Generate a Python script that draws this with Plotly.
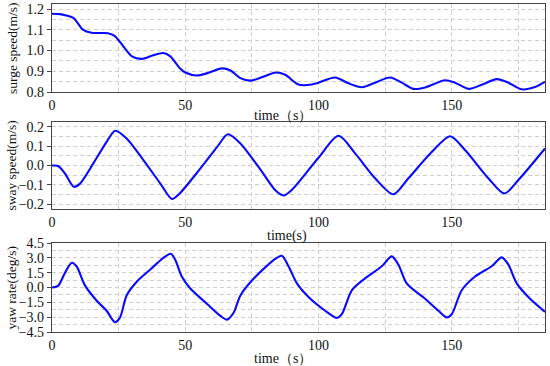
import plotly.graph_objects as go

# surge speed
t_surge = [0, 3, 5, 8, 11.7, 14.8, 18, 21, 23.6, 26.8, 30, 33.7, 38, 41.8, 44.4, 48, 50, 54.4, 58, 63.8, 67,
           70.7, 74.5, 78.9, 84, 87.5, 92.5, 97.5, 100, 106.25, 111.25, 116.25, 121.25, 126.9, 131.25, 135.6,
           140, 147.5, 151.25, 156.25, 161.25, 166.9, 171.25, 176.25, 181.25, 185]
surge = [1.178, 1.176, 1.171, 1.158, 1.10, 1.086, 1.085, 1.084, 1.07, 1.02, 0.972, 0.96, 0.978, 0.988, 0.972,
         0.915, 0.894, 0.88, 0.89, 0.914, 0.904, 0.867, 0.855, 0.872, 0.894, 0.883, 0.836, 0.836, 0.845, 0.87,
         0.842, 0.823, 0.845, 0.87, 0.845, 0.815, 0.822, 0.857, 0.845, 0.815, 0.835, 0.862, 0.845, 0.813,
         0.824, 0.849]

# sway speed
t_sway = [0, 2.3, 4.8, 8.2, 10.4, 15.5, 20.5, 23.7, 28, 34.3, 40.6, 45, 48, 55.7, 62, 66, 70.7, 78.3, 84, 86.9,
          90, 100, 107.5, 113.75, 121.25, 128.1, 133.75, 142.5, 149.4, 155, 163.75, 169.75, 175, 185]
sway = [0, -0.002, -0.04, -0.11, -0.095, 0.011, 0.123, 0.18, 0.14, 0.028, -0.092, -0.173, -0.143, -0.015,
        0.097, 0.162, 0.114, -0.023, -0.131, -0.155, -0.126, 0.04, 0.154, 0.063, -0.066, -0.149, -0.066,
        0.07, 0.152, 0.08, -0.066, -0.145, -0.075, 0.088]

# yaw rate
t_yaw = [0, 2.3, 4.8, 7.4, 9.2, 12.3, 16.7, 20.5, 23.6, 25.5, 28, 31.8, 36.8, 41.8, 44.6, 46.2, 48.7, 51.9,
         58.2, 63.2, 65.7, 68.2, 70.7, 75.8, 84, 86.25, 88.75, 91.9, 96.25, 102.5, 106.9, 108.75, 112.5,
         117.5, 123.75, 127.5, 130, 133.1, 140, 145, 148.1, 150, 153.75, 158.75, 165, 168.75, 171.25, 174.4,
         179.4, 185]
yaw = [0, 0.17, 1.45, 2.5, 2.15, 0.24, -1.31, -2.35, -3.5, -3.05, -0.8, 0.59, 1.8, 3.0, 3.42, 2.84, 1.11,
       -0.1, -1.66, -2.87, -3.25, -2.53, -0.8, 0.93, 2.94, 3.2, 2.15, 0.42, -0.97, -2.35, -3.08, -2.7, -0.28,
       0.93, 2.15, 3.15, 2.3, 0.42, -1.14, -2.35, -3.02, -2.7, -0.28, 1.11, 2.15, 3.05, 2.32, 0.42, -1.14,
       -2.46]

x_ticks = [0, 50, 100, 150]
surge_ticks = [0.8, 0.9, 1.0, 1.1, 1.2]
sway_ticks = [-0.2, -0.1, 0.0, 0.1, 0.2]
yaw_ticks = [-4.5, -3.0, -1.5, 0.0, 1.5, 3.0, 4.5]
y_titles = ["surge speed(m/s)", "sway speed(m/s)", "yaw rate(deg/s)"]
x_titles = ["time（s）", "time(s)", "time（s）"]

FONT = "Liberation Serif, DejaVu Serif, serif"
BLUE = "#0a0aff"
AX = "#444444"
GRID = "#cfcfcf"
DASH = "4px,3px"


def fmt(v):
    s = f"{abs(v):.1f}"
    return ("\u2212" + s) if v < 0 else s


fig = go.Figure()
series = [(t_surge, surge), (t_sway, sway), (t_yaw, yaw)]
for i, (t, v) in enumerate(series):
    xa = "x" if i == 0 else f"x{i+1}"
    ya = "y" if i == 0 else f"y{i+1}"
    fig.add_trace(go.Scatter(x=t, y=v, mode="lines", xaxis=xa, yaxis=ya,
                             line=dict(color=BLUE, width=2.1, shape="spline", smoothing=0.8),
                             showlegend=False, hoverinfo="skip"))

domains = [[0.7317, 1.0], [0.375, 0.640], [0.0, 0.2713]]
yranges = [[0.8, 1.225], [-0.225, 0.225], [-4.5, 4.5]]
yticks = [surge_ticks, sway_ticks, yaw_ticks]
yminor = [0.05, 0.05, 0.75]

common_x = dict(range=[0, 185], tickvals=x_ticks, showline=True, linecolor=AX, linewidth=1.2, mirror=True,
                ticks="", showgrid=True, gridcolor=GRID, griddash=DASH, gridwidth=1, automargin=False,
                minor=dict(dtick=25, tick0=0, showgrid=True, gridcolor=GRID, griddash=DASH),
                zeroline=False, tickfont=dict(family=FONT, size=14, color="#111"))

layout = dict(template="none", width=550, height=366, margin=dict(l=52, r=5, t=4, b=34, autoexpand=False),
              plot_bgcolor="white", paper_bgcolor="white", font=dict(family=FONT, color="#111"))
annotations = []
for i in range(3):
    xk = "xaxis" if i == 0 else f"xaxis{i+1}"
    yk = "yaxis" if i == 0 else f"yaxis{i+1}"
    yref = "y" if i == 0 else f"y{i+1}"
    xa = dict(common_x)
    xa["domain"] = [0, 1]
    xa["anchor"] = yref
    layout[xk] = xa
    layout[yk] = dict(domain=domains[i], range=yranges[i],
                      tickvals=yticks[i], ticktext=[fmt(v) for v in yticks[i]],
                      anchor="x" if i == 0 else f"x{i+1}", automargin=False,
                      showline=True, linecolor=AX, linewidth=1.2, mirror=True,
                      ticks="outside", ticklen=4, tickcolor=AX,
                      showgrid=True, gridcolor=GRID, griddash=DASH, gridwidth=1,
                      minor=dict(dtick=yminor[i], tick0=0, showgrid=True, gridcolor=GRID, griddash=DASH),
                      zeroline=False, tickfont=dict(family=FONT, size=14, color="#111"))
    mid = (domains[i][0] + domains[i][1]) / 2
    annotations.append(dict(text=y_titles[i], xref="paper", yref="paper", x=(12 - 52) / 493, y=mid,
                            textangle=-90, showarrow=False, xanchor="center", yanchor="middle",
                            font=dict(family=FONT, size=13.5, color="#111")))

title_y_px = [116, 236, 358]
title_x = [0.469, 0.476, 0.469]
for i in range(3):
    ypaper = (332 - title_y_px[i]) / 328
    annotations.append(dict(text=x_titles[i], xref="paper", yref="paper", x=title_x[i], y=ypaper,
                            showarrow=False, xanchor="center", yanchor="middle",
                            font=dict(family=FONT, size=14, color="#111")))
layout["annotations"] = annotations
fig.update_layout(**layout)

post = ("document.body.style.margin='0';document.body.style.padding='0';"
        "document.body.style.overflow='hidden';"
        "var gd=document.getElementById('{plot_id}');"
        "Plotly.relayout(gd,{width:550,height:366});")
fig.write_html("out.html", post_script=post, config={"displayModeBar": False})
